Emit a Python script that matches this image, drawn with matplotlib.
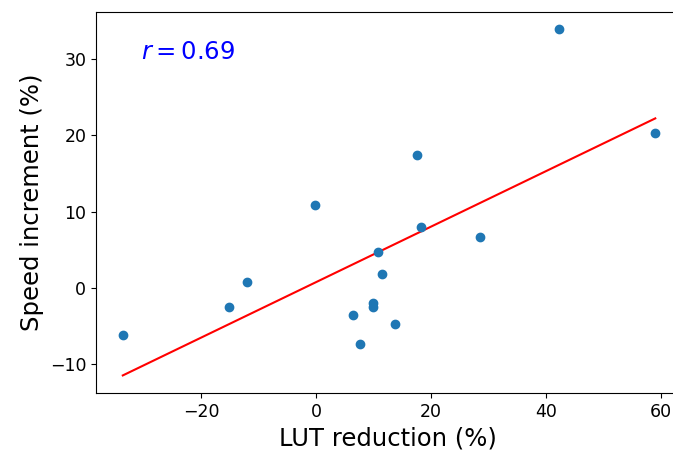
import numpy as np
import matplotlib.pyplot as plt

# LUT reduction (%) vs speed increment (%)
lut_reduction = [-33.6, -15.1, -12.0, -0.2, 6.4, 7.7, 9.9, 9.9, 10.8, 11.5,
                 13.7, 17.6, 18.3, 28.5, 42.3, 59.0]
speed_increment = [-6.2, -2.5, 0.8, 10.9, -3.5, -7.3, -2.0, -2.5, 4.7, 1.8,
                   -4.7, 17.4, 8.0, 6.7, 33.9, 20.3]
r_value = 0.69  # as printed on the chart

x = np.array(lut_reduction)
y = np.array(speed_increment)
slope, intercept = np.polyfit(x, y, 1)

fig = plt.figure(figsize=(6.73, 4.5), dpi=100)
# right spine sits just past the image edge, as in the original
ax = fig.add_axes([96 / 673, 57 / 450, 584 / 673, 381 / 450])

ax.scatter(x, y, s=36, color='#1f77b4', zorder=3)
ax.plot(x, slope * x + intercept, color='red', linewidth=1.5)
ax.text(-30.4, 30, f'$r = {r_value:.2f}$', color='blue', fontsize=17.5)

ax.set_xlim(-38.26, 63.3)
ax.set_ylim(-13.76, 36.17)
ax.set_xlabel('LUT reduction (%)', fontsize=17.5)
ax.set_ylabel('Speed increment (%)', fontsize=17.5)
ax.tick_params(labelsize=12.5)

fig.savefig('out.png', dpi=100)
